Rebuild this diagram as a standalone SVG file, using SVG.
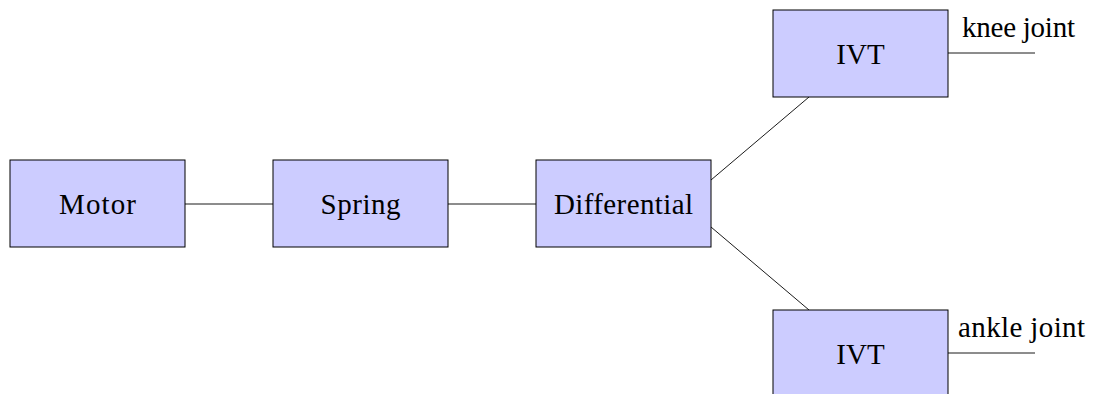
<svg xmlns="http://www.w3.org/2000/svg" width="1096" height="394" viewBox="0 0 1096 394">
<style>
.box{fill:#ccccff;stroke:#000;stroke-width:1}
.lbl{font-family:"Liberation Serif","Times New Roman",serif;font-size:29px;fill:#000;text-anchor:middle}
.side{font-family:"Liberation Serif","Times New Roman",serif;font-size:29px;fill:#000}
.con{stroke:#000;stroke-width:0.9;fill:none}
</style>
<rect width="1096" height="394" fill="#fff"/>
<g id="connectors">
<line class="con" x1="185" y1="204" x2="273" y2="204"/>
<line class="con" x1="448" y1="204" x2="536" y2="204"/>
<line class="con" x1="711" y1="180" x2="809" y2="97"/>
<line class="con" x1="711" y1="227" x2="809" y2="310"/>
<line class="con" x1="948" y1="53" x2="1035" y2="53"/>
<line class="con" x1="948" y1="353" x2="1035" y2="353"/>
</g>
<g id="motor"><rect class="box" x="10" y="160" width="175" height="87"/><text class="lbl" x="97.5" y="214" textLength="77" lengthAdjust="spacing">Motor</text></g>
<g id="spring"><rect class="box" x="273" y="160" width="175" height="87"/><text class="lbl" x="360.5" y="214" textLength="80" lengthAdjust="spacing">Spring</text></g>
<g id="differential"><rect class="box" x="536" y="160" width="175" height="87"/><text class="lbl" x="623.5" y="214" textLength="139" lengthAdjust="spacing">Differential</text></g>
<g id="ivt-knee"><rect class="box" x="773" y="10" width="175" height="87"/><text class="lbl" x="860.5" y="64">IVT</text></g>
<g id="ivt-ankle"><rect class="box" x="773" y="310" width="175" height="87"/><text class="lbl" x="860.5" y="364">IVT</text></g>
<g id="knee-label"><text class="side" x="962" y="37" textLength="113" lengthAdjust="spacing">knee joint</text></g>
<g id="ankle-label"><text class="side" x="958" y="337" textLength="127" lengthAdjust="spacing">ankle joint</text></g>
</svg>
